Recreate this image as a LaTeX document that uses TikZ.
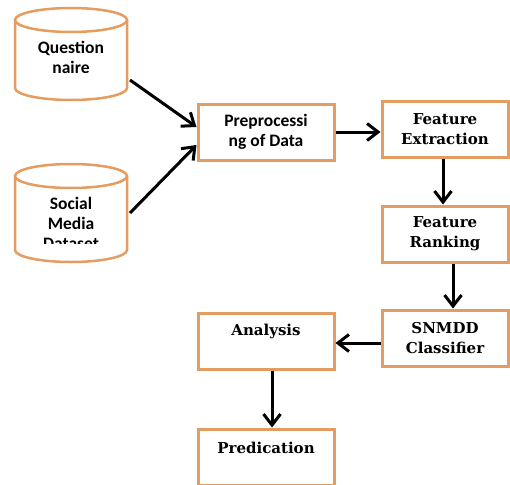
\documentclass[tikz,border=0pt]{standalone}
\usepackage{fontspec}
\newfontfamily\sanb{Carlito}
\newfontfamily\serb{DejaVu Serif}
\usetikzlibrary{arrows.meta}
\definecolor{boxor}{RGB}{228,156,96}
\tikzset{
  box/.style={draw=boxor, line width=3pt, minimum width=136pt, minimum height=56pt, inner sep=0pt},
  sbox/.style={box, minimum width=126pt},
  cyl/.style={draw=boxor, line width=2.5pt},
  lblsans/.style={align=center, font=\sanb\bfseries\fontsize{17.5}{20}\selectfont},
  lblserif/.style={align=center, font=\serb\bfseries\fontsize{15}{20}\selectfont},
  arr/.style={line width=3pt, -{Straight Barb[length=11pt,width=17pt,line width=3pt]}}
}
\begin{document}
\begin{tikzpicture}[x=1pt,y=-1pt]
\useasboundingbox (0,0) rectangle (510,484);
% cylinders
\draw[cyl] (15,20) -- (15,88) arc[start angle=180,end angle=0,x radius=56,y radius=12] -- (127,20);
\draw[cyl, fill=white] (71,20) ellipse[x radius=56,y radius=12];
\node[lblsans] (q) at (71,57) {Question\\naire};
\draw[cyl] (15,176) -- (15,250) arc[start angle=180,end angle=0,x radius=56,y radius=12] -- (127,176);
\draw[cyl, fill=white] (71,176) ellipse[x radius=56,y radius=12];
\begin{scope}
\clip (15,180) rectangle (127,243.5);
\node[lblsans, anchor=north] (s) at (71,194) {Social\\Media\\Dataset};
\end{scope}
\coordinate (qo) at (130,80);
\coordinate (so) at (130,213);
% boxes
\node[box, lblsans] (pre) at (266,132) {Preprocessi\\ng of Data};
\node[sbox, lblserif] (fe) at (445,129) {Feature\\Extraction};
\node[sbox, lblserif] (fr) at (445,234) {Feature\\Ranking};
\node[sbox, lblserif] (cl) at (445,338) {SNMDD\\Classifier};
\node[box] (an) at (266,341) {};
\node[lblserif, anchor=north] (ant) at (266,321) {Analysis};
\node[box] (pr) at (266,457) {};
\node[lblserif, anchor=north] (prt) at (266,439) {Predication};
% arrows
\draw[arr] (qo) -- (pre.west |- 0,127);
\draw[arr] (so) -- (pre.west |- 0,145);
\draw[arr] (pre.east) -- (fe.west |- pre.east);
\draw[arr] (fe.south -| 443,0) -- (fr.north -| 443,0);
\draw[arr] (fr.south -| 453,0) -- (cl.north -| 453,0);
\draw[arr] (cl.west |- 0,343) -- (an.east |- 0,343);
\draw[arr] (an.south -| 272,0) -- (pr.north -| 272,0);
\end{tikzpicture}
\end{document}
